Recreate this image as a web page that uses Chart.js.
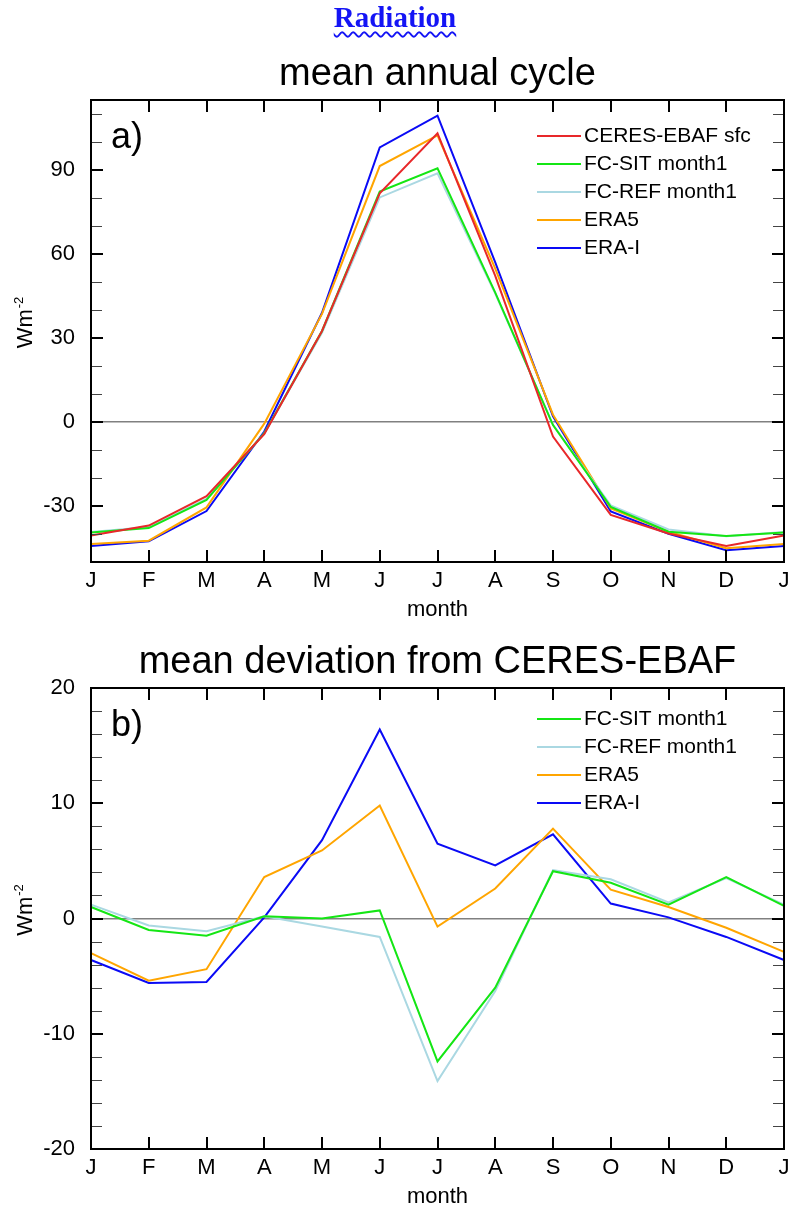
<!DOCTYPE html>
<html>
<head>
<meta charset="utf-8">
<script src="https://cdn.jsdelivr.net/npm/chart.js@4.4.0/dist/chart.umd.min.js"></script>
<style>
  body { margin: 0; background: #fff; width: 790px; height: 1211px; position: relative; overflow: hidden; }
  #head { position: absolute; top: 3px; left: 0; width: 790px; text-align: center; z-index: 2;
          font: bold 29px "Liberation Serif", serif; line-height: 29px; color: #1414f5; }
  #head span { text-decoration: underline wavy #1414f5; text-decoration-thickness: 1.5px; text-underline-offset: 4px; }
  #wa { position: absolute; top: 0; left: 0; }
  #wb { position: absolute; top: 630px; left: 0; }
</style>
</head>
<body>
<div id="head"><span>Radiation</span></div>
<canvas id="wa" width="790" height="630"></canvas>
<canvas id="wb" width="790" height="581"></canvas>
<script>
// months, with January repeated at the end
const months = ['J','F','M','A','M','J','J','A','S','O','N','D','J'];

// a) mean annual cycle (W m-2)
const ceres  = [-40.5, -37.0, -26.5, -4.3, 32.5, 81.7, 103.1, 52.2, -5.2, -33.2, -39.8, -44.3, -40.5];
const fcSit  = [-39.5, -37.9, -27.8, -4.0, 32.5, 82.3,  90.6, 46.2, -1.1, -30.3, -39.2, -40.7, -39.5];
const fcRef  = [-39.3, -37.5, -27.5, -4.1, 31.9, 80.2,  88.8, 45.9, -1.0, -29.8, -38.4, -40.8, -39.3];
const era5   = [-43.6, -42.4, -30.5, -0.6, 38.6, 91.4, 102.4, 54.8,  2.6, -30.9, -39.2, -45.1, -43.6];
const eraI   = [-44.3, -42.6, -31.8, -3.4, 39.0, 98.1, 109.4, 57.0,  2.0, -31.9, -39.9, -45.8, -44.3];

// b) mean deviation from CERES-EBAF (W m-2)
const dSit   = [ 1.0, -1.0, -1.5, 0.2,  0.0,  0.7, -12.4, -6.0, 4.1, 3.1, 1.2,  3.6,  1.1];
const dRef   = [ 1.2, -0.6, -1.1, 0.2, -0.7, -1.6, -14.1, -6.3, 4.2, 3.4, 1.4,  3.5,  1.2];
const dEra5  = [-3.0, -5.4, -4.4, 3.6,  5.9,  9.8,  -0.7,  2.6, 7.8, 2.5, 1.0, -0.8, -2.9];
const dEraI  = [-3.6, -5.6, -5.5, 0.1,  6.8, 16.4,   6.5,  4.6, 7.3, 1.3, 0.1, -1.6, -3.6];

// axis ticks
const cycleTicks = [-30, 0, 30, 60, 90];
const cycleMinor = [-40, -20, -10, 10, 20, 40, 50, 70, 80, 100, 110];
const devTicks = [-20, -10, 0, 10, 20];
const devMinor = [-18, -16, -14, -12, -8, -6, -4, -2, 2, 4, 6, 8, 12, 14, 16, 18];

const FONT = '"Liberation Sans", Arial, sans-serif';
const colors = { ceres: '#e8282a', sit: '#14e614', ref: '#aad8e2', era5: '#ffa500', eraI: '#0a0af5' };

// NCL-like frame: inward ticks on every side, legend, panel tag, y unit
const framePlugin = {
  id: 'frame',
  afterDatasetsDraw(chart, args, opts) {
    const { ctx, chartArea: a, scales: { x, y } } = chart;
    const seg = (x1, y1, x2, y2) => { ctx.beginPath(); ctx.moveTo(x1, y1); ctx.lineTo(x2, y2); ctx.stroke(); };
    ctx.save();

    ctx.strokeStyle = '#444';
    ctx.lineWidth = 1;
    opts.minor.forEach(v => {
      const py = Math.round(y.getPixelForValue(v)) + 0.5;
      seg(a.left, py, a.left + 11, py);
      seg(a.right, py, a.right - 11, py);
    });

    ctx.strokeStyle = '#000';
    ctx.lineWidth = 2;
    y.ticks.forEach(t => {
      const py = Math.round(y.getPixelForValue(t.value));
      seg(a.left, py, a.left + 12, py);
      seg(a.right, py, a.right - 12, py);
    });
    x.ticks.forEach((t, i) => {
      const px = Math.round(x.getPixelForTick(i));
      seg(px, a.top, px, a.top + 12);
      seg(px, a.bottom, px, a.bottom - 12);
    });
    ctx.strokeRect(a.left, a.top, a.right - a.left, a.bottom - a.top);

    // legend
    ctx.font = '21px ' + FONT;
    ctx.textBaseline = 'middle';
    ctx.textAlign = 'left';
    chart.data.datasets.forEach((ds, i) => {
      const ly = a.top + opts.legendTop + i * 28;
      ctx.strokeStyle = ds.borderColor;
      ctx.lineWidth = 2;
      seg(537, ly, 581, ly);
      ctx.fillStyle = '#000';
      ctx.fillText(ds.label, 584, ly);
    });

    // panel tag
    ctx.font = '36px ' + FONT;
    ctx.textBaseline = 'alphabetic';
    ctx.fillText(opts.tag, 111, a.top + 48);

    // y unit, rotated, with superscript
    const cy = (a.top + a.bottom) / 2 - 8;
    ctx.translate(32, cy);
    ctx.rotate(-Math.PI / 2);
    ctx.font = '22px ' + FONT;
    const w1 = ctx.measureText('Wm').width;
    ctx.font = '13px ' + FONT;
    const w2 = ctx.measureText('-2').width;
    const x0 = -(w1 + w2) / 2;
    ctx.font = '22px ' + FONT;
    ctx.fillText('Wm', x0, 0);
    ctx.font = '13px ' + FONT;
    ctx.fillText('-2', x0 + w1 + 1, -9);
    ctx.restore();
  }
};

function makeChart(id, cfg) {
  return new Chart(document.getElementById(id), {
    type: 'line',
    data: {
      labels: months,
      datasets: cfg.series.map(s => ({
        label: s[0], data: s[1], borderColor: s[2], borderWidth: 2,
        pointRadius: 0, tension: 0, fill: false
      }))
    },
    options: {
      responsive: false,
      animation: false,
      layout: { padding: { right: 6 } },
      plugins: {
        legend: { display: false },
        tooltip: { enabled: false },
        title: {
          display: true, fullSize: false, text: cfg.title, color: '#000',
          font: { family: FONT, size: 38, weight: 'normal', lineHeight: 1.2 },
          padding: cfg.titlePad
        },
        frame: { minor: cfg.minor, tag: cfg.tag, legendTop: cfg.legendTop }
      },
      scales: {
        x: {
          grid: { display: false },
          border: { display: false },
          ticks: { color: '#000', font: { family: FONT, size: 22 }, padding: -2, maxRotation: 0, autoSkip: false },
          title: { display: true, text: 'month', color: '#000', font: { family: FONT, size: 22 },
                   padding: { top: 0, bottom: cfg.monthPad } },
          afterFit: s => { s.height = cfg.xHeight; s.paddingLeft = 0; s.paddingRight = 0; }
        },
        y: {
          min: cfg.min, max: cfg.max,
          afterBuildTicks: s => { s.ticks = cfg.ticks.map(v => ({ value: v })); },
          afterFit: s => { s.width = 91; s.paddingTop = 0; s.paddingBottom = 0; },
          grid: {
            drawTicks: false, lineWidth: 1.5,
            color: c => (c.tick && c.tick.value === 0) ? '#808080' : 'rgba(0,0,0,0)'
          },
          border: { display: false },
          ticks: { color: '#000', font: { family: FONT, size: 22 }, padding: 16 }
        }
      }
    },
    plugins: [framePlugin]
  });
}

makeChart('wa', {
  title: 'mean annual cycle', titlePad: { top: 51.3, bottom: 3.1 },
  min: -50, max: 115, ticks: cycleTicks, minor: cycleMinor,
  xHeight: 68, monthPad: 6.8, tag: 'a)', legendTop: 36,
  series: [
    ['CERES-EBAF sfc', ceres, colors.ceres],
    ['FC-SIT month1', fcSit, colors.sit],
    ['FC-REF month1', fcRef, colors.ref],
    ['ERA5', era5, colors.era5],
    ['ERA-I', eraI, colors.eraI]
  ]
});

makeChart('wb', {
  title: 'mean deviation from CERES-EBAF', titlePad: { top: 9.3, bottom: 3.1 },
  min: -20, max: 20, ticks: devTicks, minor: devMinor,
  xHeight: 62, monthPad: 0.5, tag: 'b)', legendTop: 31,
  series: [
    ['FC-SIT month1', dSit, colors.sit],
    ['FC-REF month1', dRef, colors.ref],
    ['ERA5', dEra5, colors.era5],
    ['ERA-I', dEraI, colors.eraI]
  ]
});
</script>
</body>
</html>
